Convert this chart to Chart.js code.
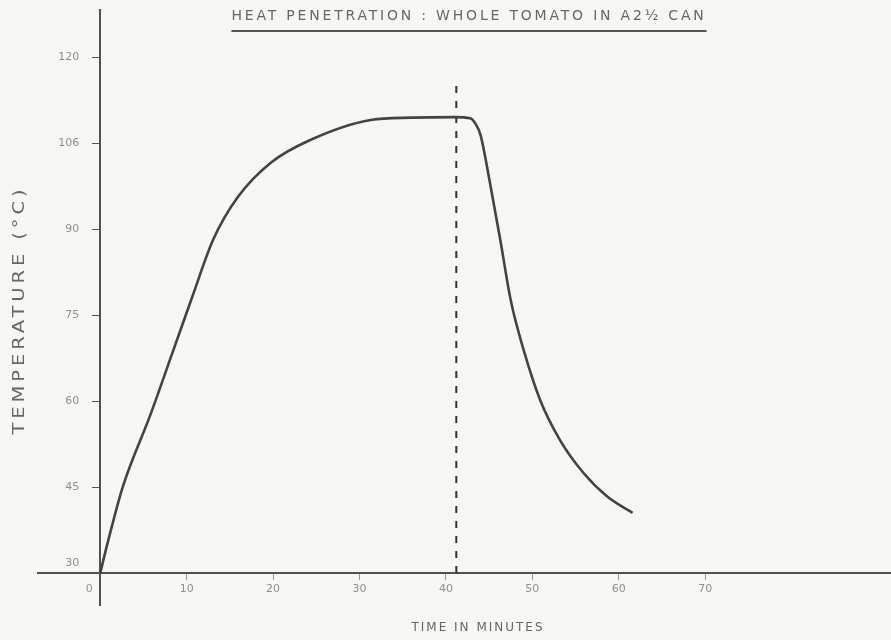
<!DOCTYPE html>
<html>
<head>
<meta charset="utf-8">
<script src="https://cdn.jsdelivr.net/npm/chart.js@4.4.0/dist/chart.umd.min.js"></script>
<style>
html, body { margin: 0; padding: 0; background: #f6f6f3; }
#wrap { width: 891px; height: 640px; position: relative; }
</style>
</head>
<body>
<div id="wrap"><canvas id="heatChart"></canvas></div>
<script>
// time (minutes) vs temperature (deg C)
var timeMin = [0, 0.9, 2.6, 5.8, 8.3, 10.6, 13.1, 15.9, 19.7, 24.3, 31.3, 36, 41, 42.8, 43.4, 44, 45.1, 46.3, 47.5, 49, 50.9, 53.2, 55.9, 58.7, 61.6];
var tempC   = [30, 35.5, 45, 57.6, 68.2, 78, 88.3, 95.6, 101.6, 105.6, 109.1, 109.5, 109.6, 109.4, 108.5, 106.5, 98.1, 88.1, 77.6, 68.9, 60.2, 53.2, 47.5, 43.3, 40.5];

// dashed line where steam is turned off
var cutoffTime = 41.2;
var cutoffTemps = [30, 116.2];

var xTickValues = [0, 10, 20, 30, 40, 50, 60, 70];
var xTickLabels = ['0\u2002\u2002\u2002\u2002', '10', '20', '30', '40', '50', '60', '70'];
var yTickValues = [30, 45, 60, 75, 90, 105, 120];
var yTickLabels = ['30', '45', '60', '75', '90', '106', '120'];

var chartTitle = 'HEAT PENETRATION : WHOLE TOMATO IN A2\u00BD CAN';
var xTitle = 'TIME IN MINUTES';
var yTitle = 'TEMPERATURE (\u00B0C)';

var curve = timeMin.map(function(t, i) { return {x: t, y: tempC[i]}; });
var cutoff = cutoffTemps.map(function(v) { return {x: cutoffTime, y: v}; });

var textPlugin = {
    id: 'texts',
    afterDraw: function(chart) {
        var c = chart.ctx;
        var xs = chart.scales.x, ys = chart.scales.y;
        var axisX = xs.getPixelForValue(0);
        var axisY = ys.getPixelForValue(30);
        c.save();

        // y tick labels, left of the axis
        c.fillStyle = '#8f8f8f';
        c.font = '11px "DejaVu Sans"';
        c.textAlign = 'right';
        c.textBaseline = 'middle';
        yTickValues.forEach(function(v, i) {
            var py = ys.getPixelForValue(v);
            if (py == axisY) py -= 10;
            c.fillText(yTickLabels[i], axisX - 21, py);
        });

        c.fillStyle = '#666';
        c.textAlign = 'center';
        c.letterSpacing = '2.8px';
        c.font = '14px "DejaVu Sans"';
        c.fillText(chartTitle, 469, 16);
        var w = c.measureText(chartTitle).width;
        c.strokeStyle = '#555';
        c.lineWidth = 1.8;
        c.beginPath();
        c.moveTo(469 - w / 2, 31);
        c.lineTo(469 + w / 2, 31);
        c.stroke();

        c.letterSpacing = '2px';
        c.font = '12px "DejaVu Sans"';
        c.fillText(xTitle, 478, 628);

        // rotated, slightly stretched like the wide lettering of the original
        c.translate(20, 310);
        c.rotate(-Math.PI / 2);
        c.scale(1.3, 1);
        c.letterSpacing = '3px';
        c.font = '15px "DejaVu Sans"';
        c.fillText(yTitle, 0, 0);
        c.restore();
    }
};

var ctx = document.getElementById('heatChart').getContext('2d');

var config = {
    type: 'scatter',
    plugins: [textPlugin],
    data: {
        datasets: [{
            data: curve,
            showLine: true,
            borderColor: '#434343',
            borderWidth: 2.6,
            pointRadius: 0,
            cubicInterpolationMode: 'monotone'
        }, {
            data: cutoff,
            showLine: true,
            borderColor: '#333',
            borderWidth: 2,
            borderDash: [7, 8],
            pointRadius: 0
        }]
    },
    options: {
        responsive: true,
        maintainAspectRatio: false,
        animation: false,
        layout: { padding: { left: 38, right: 0, top: 10, bottom: 35 } },
        plugins: {
            legend: { display: false },
            tooltip: { enabled: false }
        },
        scales: {
            x: {
                type: 'linear',
                position: { y: 30 },
                min: -7.2,
                max: 91.5,
                afterBuildTicks: function(scale) {
                    scale.ticks = xTickValues.map(function(v) { return {value: v}; });
                },
                ticks: {
                    color: '#8f8f8f',
                    font: { family: 'DejaVu Sans', size: 11 },
                    padding: 4,
                    callback: function(v) { return xTickLabels[xTickValues.indexOf(v)]; }
                },
                grid: { drawOnChartArea: false, drawTicks: true, tickLength: 6, color: '#999' },
                border: { display: true, color: '#505050', width: 2 }
            },
            y: {
                type: 'linear',
                position: { x: 0 },
                min: 24.4,
                max: 128.3,
                afterBuildTicks: function(scale) {
                    scale.ticks = yTickValues.map(function(v) { return {value: v}; });
                },
                ticks: { display: false },
                grid: { drawOnChartArea: false, drawTicks: true, tickLength: 7, color: '#555' },
                border: { display: true, color: '#505050', width: 2 }
            }
        }
    }
};
var chart = new Chart(ctx, config);
</script>
</body>
</html>
